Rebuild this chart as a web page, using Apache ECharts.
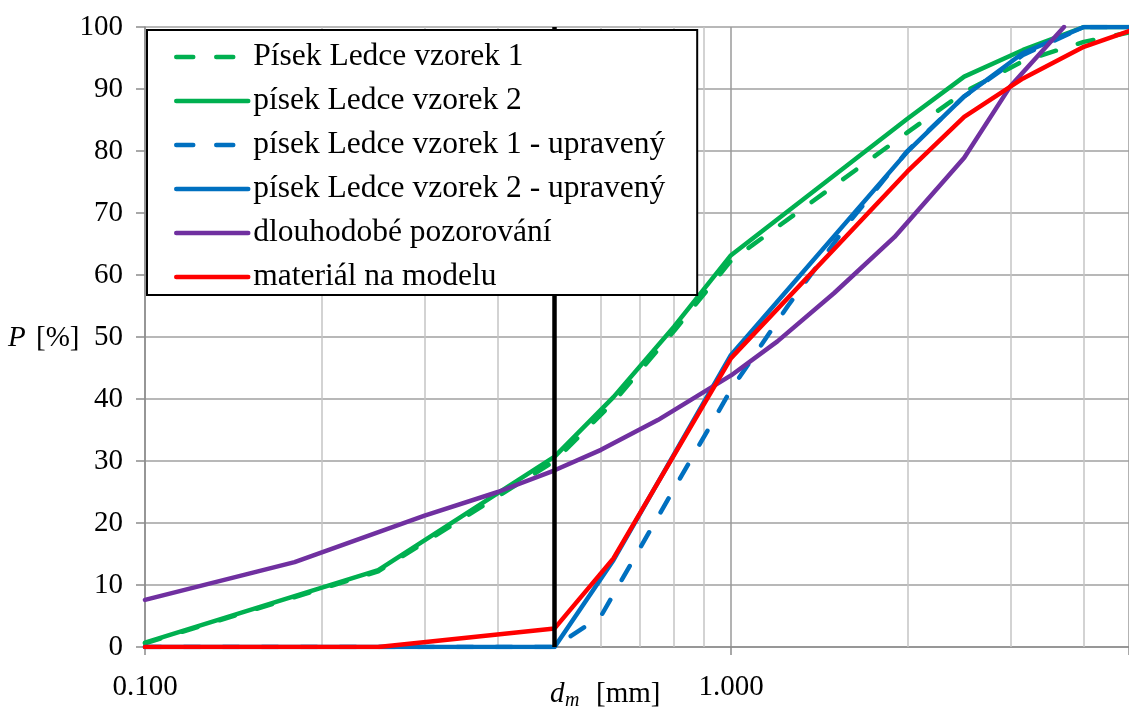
<!DOCTYPE html>
<html><head><meta charset="utf-8">
<script src="https://cdn.jsdelivr.net/npm/echarts@6/dist/echarts.min.js"></script>
<style>html,body{margin:0;padding:0;background:#fff}#c{width:1129px;height:718px}</style>
</head><body><div id="c"></div>
<script>
// ---- data ----
const seriesNames = ['Písek Ledce vzorek 1', 'písek Ledce vzorek 2', 'písek Ledce vzorek 1 - upravený', 'písek Ledce vzorek 2 - upravený', 'dlouhodobé pozorování', 'materiál na modelu'];
const dashedNames = ['Písek Ledce vzorek 1', 'písek Ledce vzorek 1 - upravený'];
const sizesGreen = [0.1, 0.25, 0.5, 0.63, 0.8, 1.0, 2.0, 2.5, 3.15, 4.0, 5.0];
const pisek1 = [0.6, 12.2, 30.0, 39.5, 51.0, 62.3, 83.0, 89.5, 94.5, 97.6, 99.5];
const pisek2 = [0.7, 12.4, 30.7, 40.3, 51.7, 63.2, 85.2, 92.0, 96.3, 100, 100];
const sizesBlue1 = [0.1, 0.25, 0.5, 0.6, 1.0, 1.25, 1.6, 2.0, 2.5, 3.15, 4.0, 5.0];
const pisek1Upr = [0, 0, 0, 5.0, 41.5, 55.0, 68.8, 80.0, 88.8, 95.5, 100, 100];
const sizesBlue2 = [0.1, 0.25, 0.5, 0.63, 1.0, 2.0, 2.5, 3.15, 4.0, 5.0];
const pisek2Upr = [0, 0, 0, 14.0, 47.1, 79.9, 88.8, 95.8, 100, 100];
const sizesPurple = [0.1, 0.18, 0.3, 0.4, 0.5, 0.6, 0.75, 1.0, 1.2, 1.5, 1.9, 2.5, 3.0, 3.7];
const dlouhodobe = [7.6, 13.7, 21.2, 25.0, 28.5, 31.8, 36.6, 43.8, 49.3, 57.1, 66.1, 78.9, 90.5, 100];
const sizesRed = [0.1, 0.25, 0.5, 0.63, 1.0, 2.0, 2.5, 3.15, 4.0, 5.0];
const material = [0, 0, 3.0, 14.3, 46.6, 76.7, 85.5, 91.7, 96.8, 100];
const minorGrid = [0.2, 0.3, 0.4, 0.5, 0.6, 0.7, 0.8, 0.9, 2, 3, 4];
const limitSize = [0.5];
const xRange = { min: 0.1, max: 4.777 };
const yTicks = { min: 0, max: 100, interval: 10 };

const pair = (xs, ys) => xs.map((x, i) => [x, ys[i]]);
const FONT = '"Liberation Serif", "Times New Roman", serif';
const GREEN = '#00B050', BLUE = '#0070C0', PURPLE = '#7030A0', RED = '#FF0000';
const dash = [16, 23];

function lineSeries(name, xs, ys, color, dashed) {
  return {
    name, type: 'line', data: pair(xs, ys), symbol: 'none', z: 2,
    lineStyle: { color, width: 4.5, type: dashed ? dash : 'solid', cap: 'round', join: 'round' },
    itemStyle: { color }
  };
}

const chart = echarts.init(document.getElementById('c'), null, { renderer: 'canvas' });
chart.setOption({
  animation: false,
  backgroundColor: '#fff',
  grid: { left: 145, top: 27, right: 0, bottom: 71, containLabel: false, outerBoundsMode: 'none' },
  xAxis: {
    type: 'log', logBase: 10, min: xRange.min, max: xRange.max,
    axisLine: { show: true, lineStyle: { color: '#8c8c8c', width: 1.5 } },
    axisTick: { show: true, length: 8, lineStyle: { color: '#8c8c8c', width: 1.5 } },
    splitLine: { show: true, lineStyle: { color: '#9a9a9a', width: 1.5 } },
    axisLabel: {
      margin: 26, color: '#000', fontFamily: FONT, fontSize: 29,
      formatter: v => { const l = Math.log10(v); return Math.abs(l - Math.round(l)) < 1e-6 ? v.toFixed(3) : ''; }
    }
  },
  yAxis: {
    type: 'value', min: yTicks.min, max: yTicks.max, interval: yTicks.interval,
    axisLine: { show: true, lineStyle: { color: '#8c8c8c', width: 1.5 } },
    axisTick: { show: true, length: 9, lineStyle: { color: '#8c8c8c', width: 1.5 } },
    splitLine: { show: true, lineStyle: { color: '#a0a0a0', width: 1.5 } },
    axisLabel: { margin: 22, color: '#000', fontFamily: FONT, fontSize: 29 }
  },
  legend: {
    data: seriesNames.map(n => dashedNames.includes(n) ? { name: n, lineStyle: { type: [17, 23] } } : { name: n }),
    orient: 'vertical', left: 147, top: 30, z: 20,
    padding: [11, 32, 2, 27], itemGap: 12, itemWidth: 72, itemHeight: 14,
    backgroundColor: '#fff', borderColor: '#000', borderWidth: 2, borderRadius: 0,
    itemStyle: { opacity: 0 },
    lineStyle: { width: 4.5, cap: 'round' },
    textStyle: { fontFamily: FONT, fontSize: 31.5, lineHeight: 32, color: '#000' },
    selectedMode: false
  },
  graphic: [
    { type: 'text', x: 8, y: 338, z: 10, style: { text: 'P', font: 'italic 29px ' + FONT, fill: '#000', verticalAlign: 'middle' } },
    { type: 'text', x: 36, y: 338, z: 10, style: { text: '[%]', font: '29px ' + FONT, fill: '#000', verticalAlign: 'middle' } },
    { type: 'text', x: 550, y: 694, z: 10, style: { text: 'd', font: 'italic 29px ' + FONT, fill: '#000', verticalAlign: 'middle' } },
    { type: 'text', x: 565, y: 701, z: 10, style: { text: 'm', font: 'italic 20px ' + FONT, fill: '#000', verticalAlign: 'middle' } },
    { type: 'text', x: 596, y: 694, z: 10, style: { text: '[mm]', font: '29px ' + FONT, fill: '#000', verticalAlign: 'middle' } }
  ],
  series: [
    {
      name: 'minorGrid', type: 'line', data: [], z: 1, silent: true,
      markLine: {
        z: 1, silent: true, symbol: ['none', 'none'], label: { show: false },
        lineStyle: { color: '#c4c4c4', width: 1.5, type: 'solid' },
        data: minorGrid.map(v => ({ xAxis: v }))
      }
    },
    lineSeries(seriesNames[0], sizesGreen, pisek1, GREEN, true),
    lineSeries(seriesNames[1], sizesGreen, pisek2, GREEN, false),
    lineSeries(seriesNames[2], sizesBlue1, pisek1Upr, BLUE, true),
    lineSeries(seriesNames[3], sizesBlue2, pisek2Upr, BLUE, false),
    lineSeries(seriesNames[4], sizesPurple, dlouhodobe, PURPLE, false),
    lineSeries(seriesNames[5], sizesRed, material, RED, false),
    {
      name: 'limit', type: 'line', data: [], z: 3, silent: true,
      markLine: {
        z: 3, silent: true, symbol: ['none', 'none'], label: { show: false },
        lineStyle: { color: '#000', width: 4.5, type: 'solid' },
        data: limitSize.map(v => ({ xAxis: v }))
      }
    }
  ]
});
</script>
</body></html>
